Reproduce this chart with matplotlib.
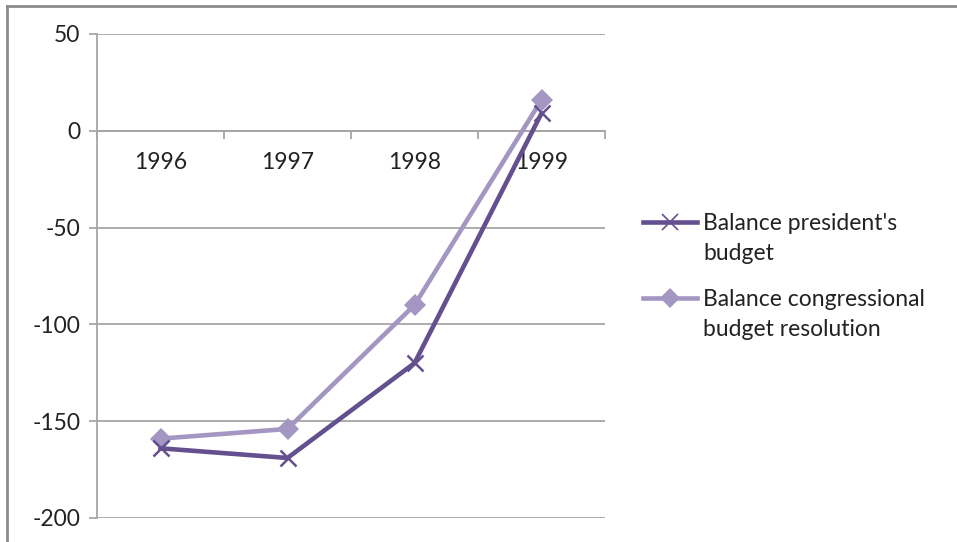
import matplotlib
matplotlib.use("Agg")
import matplotlib.pyplot as plt
from matplotlib.lines import Line2D

years = ["1996", "1997", "1998", "1999"]
president = [-164, -169, -120, 9]
congress = [-159, -154, -90, 16]
yticks = [50, 0, -50, -100, -150, -200]
labels = ["Balance president's\nbudget", "Balance congressional\nbudget resolution"]

dark = "#64508F"
light = "#A396C3"
grid = "#A6A6A6"
txt = "#222222"
fs = 16.5

plt.rcParams['font.family'] = ['Lato', 'DejaVu Sans']

W, H = 957, 542
fig = plt.figure(figsize=(W/100, H/100), dpi=100)
ax = fig.add_axes([97/W, 1-518/H, (605-97)/W, (518-34)/H])

x = list(range(len(years)))
ax.plot(x, president, color=dark, lw=3.3, marker='x', ms=12, mew=1.8, zorder=4)
ax.plot(x, congress, color=light, lw=3.3, marker='D', ms=11, mew=0, zorder=3)

ax.set_xlim(-0.5, len(years)-0.5)
ax.set_ylim(-200, 50)
ax.set_yticks(yticks)
ax.set_yticklabels([str(v) for v in yticks])
ax.yaxis.grid(True, color=grid, lw=1.3)
ax.set_axisbelow(True)

for s in ['top', 'right']:
    ax.spines[s].set_visible(False)
ax.spines['left'].set_color(grid)
ax.spines['left'].set_linewidth(1.3)
ax.spines['bottom'].set_position(('data', 0))
ax.spines['bottom'].set_color(grid)
ax.spines['bottom'].set_linewidth(1.3)

ax.set_xticks(x)
ax.set_xticklabels(years)
ax.set_xticks([i - 0.5 for i in range(len(years)+1)], minor=True)
ax.tick_params(axis='x', which='major', length=0, pad=15, labelsize=fs, labelcolor=txt)
ax.tick_params(axis='x', which='minor', length=6, width=1.3, color=grid, direction='out')
ax.tick_params(axis='y', length=6, width=1.3, color=grid, labelsize=fs, labelcolor=txt, pad=6)

# manual legend (handle aligned with first text line, like the reference)
styles = [dict(color=dark, lw=3.3, marker='x', ms=12, mew=1.2),
          dict(color=light, lw=3.3, marker='D', ms=10, mew=0)]
entry_y = [222, 298]
for lab, st, ey in zip(labels, styles, entry_y):
    yf = 1 - ey/H
    ln = Line2D([643/W, 697/W], [yf, yf], transform=fig.transFigure,
                markevery=[1], **st)
    # put marker at middle
    ln.set_xdata([643/W, 670/W, 697/W]); ln.set_ydata([yf, yf, yf])
    fig.add_artist(ln)
    for k, part in enumerate(lab.split("\n")):
        fig.text(703/W, 1 - (ey + 1 + 30*k)/H, part, fontsize=fs, color=txt,
                 ha='left', va='center')

# outer chart border (top and left visible)
fig.add_artist(Line2D([7/W, 7/W], [0, 1-6/H], transform=fig.transFigure, color='#8C8C8C', lw=2))
fig.add_artist(Line2D([7/W, 1], [1-6/H, 1-6/H], transform=fig.transFigure, color='#8C8C8C', lw=2))

fig.savefig("out.png", dpi=100)
